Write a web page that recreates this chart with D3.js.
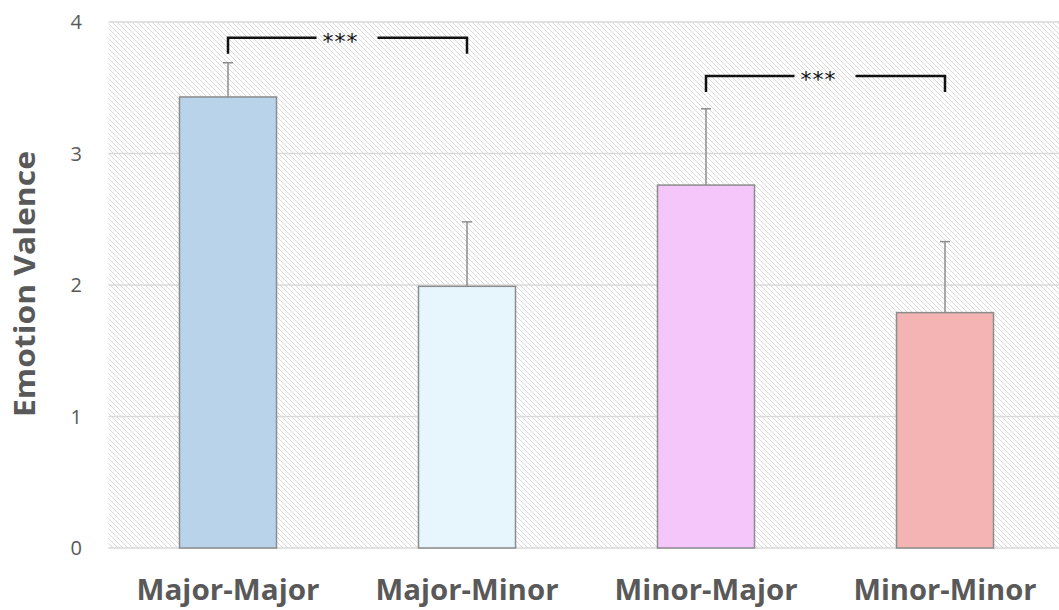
<!DOCTYPE html>
<html><head><meta charset="utf-8">
<script src="https://cdn.jsdelivr.net/npm/d3@7"></script>
<style>body{margin:0;background:#fff}</style>
</head><body>
<svg id="c" width="1059" height="610"></svg>
<script>
const categories = ["Major-Major","Major-Minor","Minor-Major","Minor-Minor"];
const means = [3.43, 1.99, 2.76, 1.79];
const errors = [0.26, 0.49, 0.58, 0.54];
const colors = ["#b9d3ea","#e7f5fc","#f4c6f9","#f4b4b4"];
const yTicks = [0,1,2,3,4];
const comparisons = [{a:0,b:1,y:3.88,label:"***"},{a:2,b:3,y:3.59,label:"***"}];

const svg = d3.select("#c");
const x = d3.scaleBand().domain(categories).range([108.5,1064.5]).paddingInner(0.594).paddingOuter(0.297);
const y = d3.scaleLinear().domain([0,4]).range([548,22]);

const defs = svg.append("defs");
const pat = defs.append("pattern").attr("id","hatch").attr("patternUnits","userSpaceOnUse")
  .attr("width",5).attr("height",5);
pat.append("rect").attr("width",5).attr("height",5).attr("fill","#fff");
pat.append("path").attr("d","M-1,-1 L6,6 M-1,4 L1,6 M4,-1 L6,1").attr("stroke","#d6d6d6").attr("stroke-width",0.9);

svg.append("rect").attr("x",108.5).attr("y",y(4)).attr("width",1059-108.5).attr("height",y(0)-y(4)).attr("fill","url(#hatch)");

// gridlines
svg.append("g").selectAll("line").data(yTicks).join("line")
  .attr("x1",108.5).attr("x2",1059).attr("y1",d=>y(d)).attr("y2",d=>y(d))
  .attr("stroke","#d9d9d9").attr("stroke-width",1.5);

// y tick labels
svg.append("g").selectAll("text").data(yTicks).join("text")
  .attr("x",82).attr("y",d=>y(d)).attr("dy","0.35em").attr("text-anchor","end")
  .attr("font-family","Open Sans, sans-serif").attr("font-size",20).attr("fill","#595959")
  .text(d=>d);

// bars
svg.append("g").selectAll("rect").data(categories).join("rect")
  .attr("x",d=>x(d)).attr("width",x.bandwidth())
  .attr("y",(d,i)=>y(means[i])).attr("height",(d,i)=>y(0)-y(means[i]))
  .attr("fill",(d,i)=>colors[i]).attr("stroke","#8c8c8c").attr("stroke-width",1.5);

// error bars
const eb = svg.append("g").attr("stroke","#8c8c8c").attr("stroke-width",1.5);
categories.forEach((c,i)=>{
  const cx = x(c)+x.bandwidth()/2;
  eb.append("line").attr("x1",cx).attr("x2",cx).attr("y1",y(means[i])).attr("y2",y(means[i]+errors[i]));
  eb.append("line").attr("x1",cx-5).attr("x2",cx+5).attr("y1",y(means[i]+errors[i])).attr("y2",y(means[i]+errors[i]));
});

// significance brackets
comparisons.forEach(cmp=>{
  const xa = x(categories[cmp.a])+x.bandwidth()/2;
  const xb = x(categories[cmp.b])+x.bandwidth()/2;
  const yy = y(cmp.y);
  const mid = (xa+xb)/2;
  const g = svg.append("g");
  g.append("path").attr("d",`M${xa},${yy+16} V${yy} H${mid-31}`).attr("fill","none").attr("stroke","#111").attr("stroke-width",2.5);
  g.append("path").attr("d",`M${mid+30},${yy} H${xb} V${yy+16}`).attr("fill","none").attr("stroke","#111").attr("stroke-width",2.5);
  g.append("text").attr("x",mid-7).attr("y",yy+11).attr("text-anchor","middle")
    .attr("font-family","DejaVu Sans, sans-serif").attr("font-size",22).attr("fill","#111").attr("letter-spacing",1)
    .text(cmp.label);
});

// x labels
svg.append("g").selectAll("text").data(categories).join("text")
  .attr("x",d=>x(d)+x.bandwidth()/2).attr("y",600).attr("text-anchor","middle")
  .attr("font-family","Open Sans, sans-serif").attr("font-weight","bold").attr("font-size",28).attr("fill","#595959")
  .attr("textLength",183).attr("lengthAdjust","spacingAndGlyphs")
  .text(d=>d);

// y label
svg.append("text").attr("transform","translate(35,284) rotate(-90)").attr("text-anchor","middle")
  .attr("font-family","Open Sans, sans-serif").attr("font-weight","bold").attr("font-size",29).attr("fill","#595959")
  .attr("textLength",266).attr("lengthAdjust","spacingAndGlyphs")
  .text("Emotion Valence");
</script>
</body></html>
